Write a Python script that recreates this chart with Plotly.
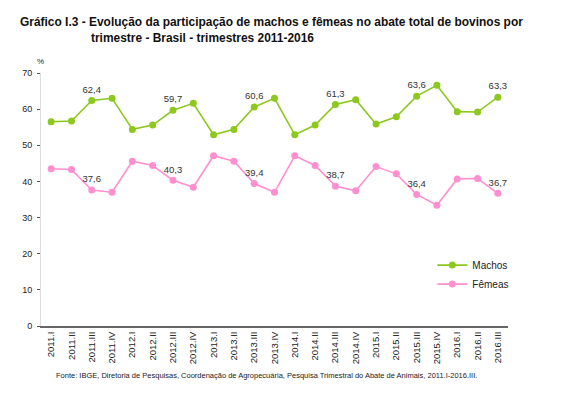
import plotly.graph_objects as go

trimestres = ["2011.I", "2011.II", "2011.III", "2011.IV",
              "2012.I", "2012.II", "2012.III", "2012.IV",
              "2013.I", "2013.II", "2013.III", "2013.IV",
              "2014.I", "2014.II", "2014.III", "2014.IV",
              "2015.I", "2015.II", "2015.III", "2015.IV",
              "2016.I", "2016.II", "2016.III"]

machos = [56.5, 56.7, 62.4, 63.0,
          54.4, 55.6, 59.7, 61.6,
          52.9, 54.4, 60.6, 63.0,
          52.9, 55.6, 61.3, 62.6,
          55.9, 57.9, 63.6, 66.6,
          59.3, 59.2, 63.3]

femeas = [43.5, 43.3, 37.6, 37.0,
          45.6, 44.4, 40.3, 38.4,
          47.1, 45.6, 39.4, 37.0,
          47.1, 44.4, 38.7, 37.4,
          44.1, 42.1, 36.4, 33.4,
          40.7, 40.8, 36.7]

# labels shown only on the third quarter of each year
label_idx = [2, 6, 10, 14, 18, 22]

def labels(vals):
    return [f"{v:.1f}".replace(".", ",") if i in label_idx else "" for i, v in enumerate(vals)]

GREEN = "#8CC81E"
PINK = "#FF8FCF"
FONT = "Liberation Sans, Arial, sans-serif"

fig = go.Figure()
fig.add_trace(go.Scatter(
    x=trimestres, y=machos, name="Machos", mode="lines+markers+text",
    line=dict(color=GREEN, width=1.6), marker=dict(color=GREEN, size=7),
    text=labels(machos), textposition="top center",
    textfont=dict(size=9.5, color="#333333", family=FONT),
    cliponaxis=False,
))
fig.add_trace(go.Scatter(
    x=trimestres, y=femeas, name="Fêmeas", mode="lines+markers+text",
    line=dict(color=PINK, width=1.6), marker=dict(color=PINK, size=7),
    text=labels(femeas), textposition="top center",
    textfont=dict(size=9.5, color="#333333", family=FONT),
    cliponaxis=False,
))

fig.update_layout(
    width=563, height=395,
    margin=dict(l=41, r=55, t=73, b=69, autoexpand=False),
    paper_bgcolor="white", plot_bgcolor="white",
    font=dict(family=FONT, color="#222222", size=9),
    showlegend=True,
    legend=dict(x=0.838, y=0.298, xanchor="left", yanchor="top",
                font=dict(size=10, color="#222222", family=FONT),
                itemwidth=30, tracegroupgap=0, bgcolor="rgba(0,0,0,0)"),
    xaxis=dict(
        type="category", tickangle=-90, showgrid=False, automargin=False,
        showline=True, linecolor="#666666", linewidth=1.5,
        ticks="", tickfont=dict(size=9.5, color="#222222", family=FONT),
        range=[-0.5, 22.5],
    ),
    yaxis=dict(
        range=[0, 70], dtick=10, showgrid=False, zeroline=False, automargin=False,
        showline=True, linecolor="#dddddd", linewidth=1,
        ticks="outside", ticklen=3, tickcolor="#555555", ticklabelstandoff=3,
        tickfont=dict(size=9, color="#222222", family=FONT),
    ),
    annotations=[
        dict(text="<b>Gráfico I.3 - Evolução da participação de machos e fêmeas no abate total de bovinos por</b>",
             x=(18 - 41) / 467, y=(326 - 22) / 253, xref="paper", yref="paper",
             xanchor="left", yanchor="middle", showarrow=False,
             font=dict(size=11.95, color="#111111", family=FONT)),
        dict(text="<b>trimestre - Brasil - trimestres 2011-2016</b>",
             x=(89 - 41) / 467, y=(326 - 38) / 253, xref="paper", yref="paper",
             xanchor="left", yanchor="middle", showarrow=False,
             font=dict(size=11.95, color="#111111", family=FONT)),
        dict(text="%", x=(40 - 41) / 467, y=(326 - 61) / 253, xref="paper", yref="paper",
             xanchor="center", yanchor="middle", showarrow=False,
             font=dict(size=8, color="#222222", family=FONT)),
        dict(text="Fonte: IBGE, Diretoria de Pesquisas, Coordenação de Agropecuária, Pesquisa Trimestral do Abate de Animais, 2011.I-2016.III.",
             x=(54 - 41) / 467, y=(326 - 375) / 253, xref="paper", yref="paper",
             xanchor="left", yanchor="middle", showarrow=False,
             font=dict(size=7.5, color="#222222", family=FONT)),
    ],
)

fig.write_html("out.html", config={"displayModeBar": False},
               post_script="document.body.style.margin='0';")
